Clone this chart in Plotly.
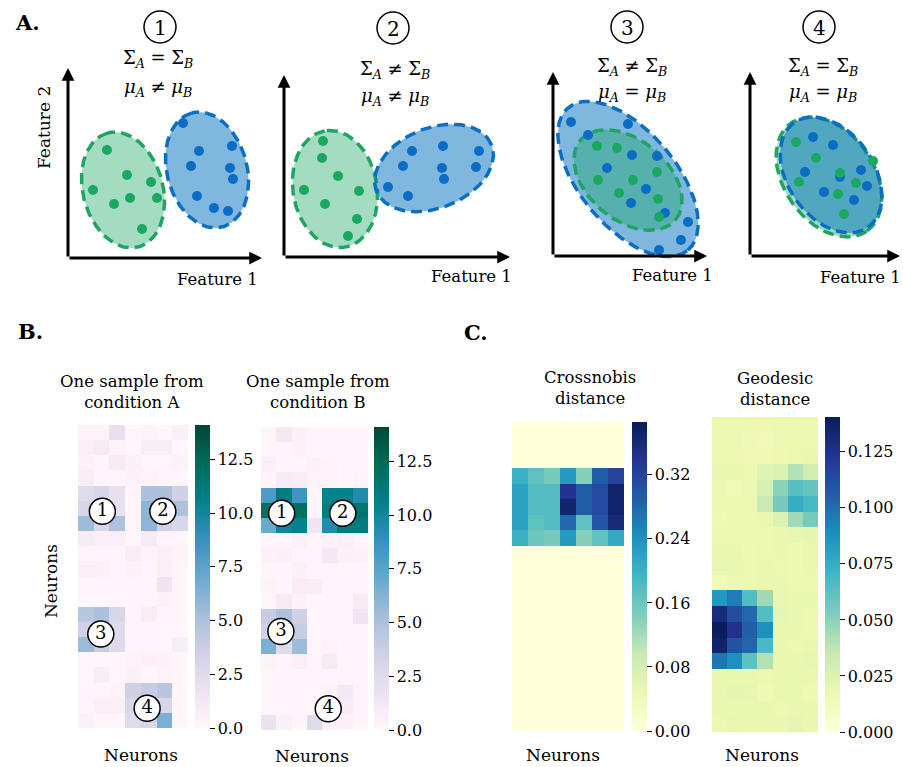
import numpy as np
import plotly.graph_objects as go
import plotly.colors as pc

W, H = 903, 767
FONT = "DejaVu Serif"


def X(p):
    return p / W


def Y(p):
    return 1 - p / H


# ---------------- Panel A data (schematic, units = px relative to plot origin) ----------------
A_origin = [(68, 258), (284, 257), (553, 256), (750, 256)]
A_size = [(194, 190), (226, 182), (154, 184), (150, 184)]

# ellipse: (cx, cy, semi-major, semi-minor, angle_deg)
ell_green = [(55, 68, 59, 40, 105), (51, 68, 59, 42, 100), (75, 76, 62, 40, -40), (79, 79, 66, 45, -55)]
ell_blue = [(139, 88, 59, 40, 105), (150, 89, 62, 40, 22), (75, 77, 93, 48, -50), (81, 81, 64, 43, -55)]

green_x = [
    [39, 59, 83, 25, 62, 89, 46, 74],
    [39, 38, 54, 20, 75, 41, 73, 64],
    [44, 64, 104, 45, 80, 66, 105, 106],
    [46, 66, 123, 90, 49, 106, 88, 94],
]
green_y = [
    [108, 83, 76, 68, 60, 60, 54, 29],
    [116, 99, 81, 67, 66, 53, 38, 21],
    [110, 108, 84, 76, 76, 63, 57, 39],
    [114, 98, 95, 83, 74, 73, 62, 42],
]
blue_x = [
    [115, 131, 164, 123, 162, 165, 129, 146, 160],
    [128, 159, 195, 119, 158, 192, 160, 104, 124],
    [18, 75, 35, 79, 104, 54, 93, 78, 112, 135, 128, 106],
    [63, 83, 55, 111, 90, 117, 74, 104],
]
blue_y = [
    [135, 107, 112, 92, 90, 79, 62, 50, 47],
    [106, 111, 106, 91, 89, 90, 78, 70, 61],
    [134, 132, 121, 101, 100, 88, 67, 53, 43, 34, 16, 6],
    [119, 111, 84, 86, 79, 70, 64, 56],
]

cond_top = [
    "Σ<sub><i>A</i></sub> = Σ<sub><i>B</i></sub>",
    "Σ<sub><i>A</i></sub> ≠ Σ<sub><i>B</i></sub>",
    "Σ<sub><i>A</i></sub> ≠ Σ<sub><i>B</i></sub>",
    "Σ<sub><i>A</i></sub> = Σ<sub><i>B</i></sub>",
]
cond_bot = [
    "<i>μ</i><sub><i>A</i></sub> ≠ <i>μ</i><sub><i>B</i></sub>",
    "<i>μ</i><sub><i>A</i></sub> ≠ <i>μ</i><sub><i>B</i></sub>",
    "<i>μ</i><sub><i>A</i></sub> = <i>μ</i><sub><i>B</i></sub>",
    "<i>μ</i><sub><i>A</i></sub> = <i>μ</i><sub><i>B</i></sub>",
]
case_labels = ["1", "2", "3", "4"]

# ---------------- Panel B data ----------------
cond_A = [
    [0.3, 0.3, 2.0, 0.2, 0.3, 0.2, 0.6],
    [0.6, 1.0, 0.3, 0.2, 0.7, 0.7, 0.2],
    [0.4, 0.2, 1.0, 0.5, 0.2, 0.2, 0.4],
    [0.8, 0.2, 0.2, 0.4, 0.3, 0.2, 0.2],
    [2.5, 3.0, 2.0, 0.2, 5.0, 5.0, 3.5],
    [3.0, 2.5, 2.0, 0.2, 6.0, 4.0, 5.0],
    [5.5, 3.0, 5.0, 0.2, 6.0, 3.5, 3.0],
    [1.0, 0.6, 0.6, 0.2, 1.0, 0.2, 0.2],
    [0.2, 0.2, 0.2, 0.8, 0.3, 0.6, 0.3],
    [0.6, 0.5, 0.2, 0.4, 0.2, 0.6, 0.2],
    [0.2, 0.2, 0.2, 0.2, 0.2, 1.5, 0.2],
    [0.2, 0.2, 0.2, 0.2, 0.2, 0.4, 0.2],
    [4.5, 5.0, 3.0, 0.2, 0.8, 0.2, 0.2],
    [3.5, 3.5, 2.5, 0.2, 0.2, 0.2, 0.2],
    [5.5, 4.0, 2.5, 0.2, 0.2, 0.2, 0.7],
    [0.2, 0.2, 0.2, 0.3, 0.5, 0.4, 0.2],
    [0.2, 0.7, 0.2, 0.5, 0.2, 0.3, 0.2],
    [0.2, 0.2, 0.3, 3.5, 4.0, 4.5, 0.2],
    [0.2, 0.6, 0.6, 3.0, 3.0, 3.0, 0.2],
    [0.4, 0.2, 0.2, 2.5, 3.0, 6.5, 0.2],
]
cond_B = [
    [0.2, 1.2, 0.5, 0.2, 0.2, 0.2, 0.2],
    [0.2, 0.2, 0.4, 0.2, 0.2, 0.2, 0.2],
    [0.6, 0.2, 0.2, 0.4, 0.3, 0.2, 0.2],
    [0.3, 1.0, 0.8, 0.3, 0.3, 0.2, 0.3],
    [8.0, 11.0, 8.5, 0.2, 10.5, 10.5, 9.5],
    [12.0, 11.5, 12.0, 0.2, 11.0, 11.5, 11.5],
    [7.0, 10.0, 10.5, 1.5, 9.5, 11.0, 11.0],
    [0.2, 0.2, 0.5, 0.2, 0.4, 0.6, 0.2],
    [0.4, 0.5, 0.2, 0.2, 1.2, 0.5, 0.4],
    [0.2, 0.2, 0.5, 0.2, 0.2, 0.2, 0.2],
    [0.3, 0.2, 0.8, 0.8, 0.2, 0.2, 0.2],
    [0.2, 1.0, 0.4, 0.2, 0.2, 0.2, 1.0],
    [4.0, 5.0, 3.5, 0.2, 0.2, 0.2, 1.5],
    [3.5, 3.0, 4.0, 0.2, 0.2, 0.2, 0.2],
    [6.5, 2.5, 5.5, 0.2, 0.3, 0.2, 0.2],
    [0.3, 0.2, 0.6, 0.2, 1.0, 0.2, 0.2],
    [0.2, 0.2, 0.2, 0.2, 0.2, 0.2, 0.2],
    [0.2, 0.2, 0.2, 0.2, 0.3, 1.2, 0.2],
    [0.2, 0.2, 0.2, 0.2, 0.6, 0.9, 0.2],
    [1.8, 0.5, 0.2, 2.5, 0.6, 0.5, 0.2],
]
B_ticks = [0.0, 2.5, 5.0, 7.5, 10.0, 12.5]
circ_A_col = [1.05, 4.9, 0.95, 3.9]
circ_A_row = [5.2, 5.2, 13.3, 18.2]
circ_B_col = [0.85, 4.85, 0.8, 3.9]
circ_B_row = [5.2, 5.2, 13.0, 18.1]

# ---------------- Panel C data ----------------
cross_block = [
    [0.20, 0.17, 0.15, 0.23, 0.14, 0.29, 0.32],
    [0.22, 0.18, 0.18, 0.34, 0.29, 0.31, 0.37],
    [0.22, 0.18, 0.18, 0.37, 0.29, 0.31, 0.37],
    [0.22, 0.17, 0.18, 0.28, 0.17, 0.30, 0.36],
    [0.20, 0.16, 0.15, 0.23, 0.14, 0.17, 0.21],
]
crossnobis = [[0.0] * 7 for _ in range(3)] + cross_block + [[0.0] * 7 for _ in range(12)]
C1_ticks = [0.00, 0.08, 0.16, 0.24, 0.32]

geodesic = [
    [0.018, 0.018, 0.017, 0.017, 0.018, 0.018, 0.018],
    [0.018, 0.018, 0.016, 0.015, 0.018, 0.018, 0.018],
    [0.018, 0.017, 0.016, 0.016, 0.017, 0.018, 0.019],
    [0.020, 0.019, 0.018, 0.024, 0.026, 0.040, 0.030],
    [0.018, 0.014, 0.018, 0.028, 0.050, 0.064, 0.060],
    [0.018, 0.018, 0.018, 0.034, 0.055, 0.075, 0.068],
    [0.016, 0.018, 0.018, 0.019, 0.025, 0.045, 0.055],
    [0.017, 0.018, 0.018, 0.018, 0.019, 0.020, 0.021],
    [0.019, 0.019, 0.017, 0.018, 0.019, 0.017, 0.019],
    [0.020, 0.019, 0.018, 0.019, 0.018, 0.017, 0.019],
    [0.015, 0.018, 0.018, 0.019, 0.019, 0.018, 0.018],
    [0.085, 0.095, 0.065, 0.045, 0.020, 0.019, 0.019],
    [0.130, 0.112, 0.102, 0.065, 0.021, 0.019, 0.018],
    [0.140, 0.125, 0.105, 0.088, 0.019, 0.019, 0.018],
    [0.135, 0.110, 0.103, 0.068, 0.019, 0.018, 0.019],
    [0.097, 0.088, 0.062, 0.040, 0.019, 0.019, 0.020],
    [0.019, 0.019, 0.019, 0.018, 0.019, 0.019, 0.019],
    [0.019, 0.021, 0.020, 0.016, 0.019, 0.019, 0.017],
    [0.019, 0.019, 0.019, 0.019, 0.018, 0.019, 0.019],
    [0.018, 0.020, 0.019, 0.019, 0.019, 0.021, 0.019],
]
C2_ticks = [0.000, 0.025, 0.050, 0.075, 0.100, 0.125]

GREEN_FILL = "rgba(26,168,100,0.40)"
BLUE_FILL = "rgba(0,112,192,0.50)"
GREEN_LINE = "#1fa463"
BLUE_LINE = "#0a6fc2"
GREEN_DOT = "#1aa860"
BLUE_DOT = "#0a6cc4"

fig = go.Figure()
layout = {}
annotations = []
shapes = []


def names(i):
    s = "" if i == 1 else str(i)
    return "xaxis" + s, "yaxis" + s, "x" + s, "y" + s


def ellipse_pts(cx, cy, a, b, ang, n=200):
    t = np.linspace(0, 2 * np.pi, n)
    th = np.deg2rad(ang)
    x = cx + a * np.cos(t) * np.cos(th) - b * np.sin(t) * np.sin(th)
    y = cy + a * np.cos(t) * np.sin(th) + b * np.sin(t) * np.cos(th)
    return x, y


def label(px, py, text, size, angle=0):
    annotations.append(dict(x=X(px), y=Y(py), xref="paper", yref="paper",
                            xanchor="center", yanchor="middle", text=text,
                            textangle=angle, showarrow=False,
                            font=dict(family=FONT, size=size, color="black")))


pad = 14
for k in range(4):
    idx = k + 1
    xa, ya, xr, yr = names(idx)
    ox, oy = A_origin[k]
    w, h = A_size[k]
    xl = max(ox - pad, 0)
    xh = min(ox + w + pad, W)
    yb = min(oy + pad, H)
    yt = max(oy - h - pad, 0)
    layout[xa] = dict(domain=[X(xl), X(xh)], range=[xl - ox, xh - ox],
                      visible=False, fixedrange=True, anchor=yr)
    layout[ya] = dict(domain=[Y(yb), Y(yt)], range=[oy - yb, oy - yt],
                      visible=False, fixedrange=True, anchor=xr)

    def add_ell(p, fillc, linec):
        ex, ey = ellipse_pts(*p)
        fig.add_trace(go.Scatter(x=ex, y=ey, mode="lines", fill="toself", fillcolor=fillc,
                                 line=dict(color=linec, width=3.5, dash="11px,6px"),
                                 hoverinfo="skip", xaxis=xr, yaxis=yr))

    if k == 2:
        add_ell(ell_blue[k], BLUE_FILL, BLUE_LINE)
        add_ell(ell_green[k], GREEN_FILL, GREEN_LINE)
    else:
        add_ell(ell_green[k], GREEN_FILL, GREEN_LINE)
        add_ell(ell_blue[k], BLUE_FILL, BLUE_LINE)
    fig.add_trace(go.Scatter(x=blue_x[k], y=blue_y[k], mode="markers",
                             marker=dict(size=10, color=BLUE_DOT), xaxis=xr, yaxis=yr, cliponaxis=False))
    fig.add_trace(go.Scatter(x=green_x[k], y=green_y[k], mode="markers",
                             marker=dict(size=10, color=GREEN_DOT), xaxis=xr, yaxis=yr, cliponaxis=False))
    # axis arrows
    for (tx, ty) in [(w, 0), (0, h)]:
        annotations.append(dict(x=tx, y=ty, ax=0, ay=0, xref=xr, yref=yr, axref=xr, ayref=yr,
                                text="", showarrow=True, arrowhead=2, arrowsize=0.85,
                                arrowwidth=3, arrowcolor="black"))

# Panel A texts
circ_cx = [160, 393, 627, 819]
circ_cy = [27, 28, 27, 27]
text_cx = [158, 395, 632, 823]
top_y = [59, 70, 67, 67]
bot_y = [88, 97, 93, 93]
feat1_x = [217, 472, 672, 860]
feat1_y = [279, 276, 275, 277]
for k in range(4):
    r = 16
    shapes.append(dict(type="circle", xref="paper", yref="paper",
                       x0=X(circ_cx[k] - r), x1=X(circ_cx[k] + r),
                       y0=Y(circ_cy[k] + r), y1=Y(circ_cy[k] - r),
                       line=dict(color="black", width=1.5), fillcolor="white"))
    label(circ_cx[k], circ_cy[k] + 1, case_labels[k], 20)
    label(text_cx[k], top_y[k], cond_top[k], 18)
    label(text_cx[k], bot_y[k], cond_bot[k], 18)
    label(feat1_x[k], feat1_y[k], "Feature 1", 16.5)

label(44, 128, "Feature 2", 17, angle=-90)

# panel letters
for txt, px, py in [("A.", 27, 22), ("B.", 30, 331), ("C.", 476, 332)]:
    label(px, py, "<b>" + txt + "</b>", 21)

# ---------------- heatmaps ----------------
PuBuGn = pc.sequential.PuBuGn
YlGnBu = pc.sequential.YlGnBu

heat_specs = [
    (cond_A, PuBuGn, 14.1, B_ticks, ".1f", (78, 188, 425, 728), (195, 425, 728),
     "One sample from<br>condition A", (132, 392), (141, 755)),
    (cond_B, PuBuGn, 14.1, B_ticks, ".1f", (261, 368, 427, 730), (374, 427, 730),
     "One sample from<br>condition B", (318, 392), (312, 756)),
    (crossnobis, YlGnBu, 0.386, C1_ticks, ".2f", (512, 624, 422, 731), (632, 422, 731),
     "Crossnobis<br>distance", (590, 388), (563, 755)),
    (geodesic, YlGnBu, 0.1405, C2_ticks, ".3f", (712, 818, 417, 732), (825, 417, 732),
     "Geodesic<br>distance", (775, 389), (762, 755)),
]

for j, (z, cmap, zmax, ticks, fmt, box, cb, title, tpos, npos) in enumerate(heat_specs):
    idx = 5 + j
    xa, ya, xr, yr = names(idx)
    x0, x1, y0, y1 = box
    layout[xa] = dict(domain=[X(x0), X(x1)], range=[-0.5, 6.5], visible=False,
                      fixedrange=True, anchor=yr)
    layout[ya] = dict(domain=[Y(y1), Y(y0)], range=[19.5, -0.5], visible=False,
                      fixedrange=True, anchor=xr)
    cbx, cby0, cby1 = cb
    fig.add_trace(go.Heatmap(
        z=z, colorscale=cmap, zmin=0, zmax=zmax, xaxis=xr, yaxis=yr,
        colorbar=dict(thickness=15, lenmode="pixels", len=cby1 - cby0, x=X(cbx),
                      xanchor="left", y=Y(cby0), yanchor="top", xpad=0, ypad=0, outlinewidth=0,
                      ticks="outside", ticklen=5, tickwidth=1, tickcolor="black",
                      tickvals=ticks, tickformat=fmt,
                      tickfont=dict(family=FONT, size=16, color="black")),
    ))
    label(tpos[0], tpos[1], title, 16.5)
    label(npos[0], npos[1], "Neurons", 17)

# circled labels on panel B heatmaps
for cols, rows, idx in [(circ_A_col, circ_A_row, 5), (circ_B_col, circ_B_row, 6)]:
    _, _, xr, yr = names(idx)
    fig.add_trace(go.Scatter(x=cols, y=rows, mode="markers+text", text=case_labels,
                             textposition="middle center",
                             textfont=dict(family=FONT, size=18, color="black"),
                             marker=dict(size=26, color="white", line=dict(color="black", width=1.5)),
                             xaxis=xr, yaxis=yr, hoverinfo="skip", cliponaxis=False))

label(51, 581, "Neurons", 17, angle=-90)

fig.update_layout(
    width=W, height=H, margin=dict(l=0, r=0, t=0, b=0, pad=0, autoexpand=False),
    paper_bgcolor="white", plot_bgcolor="white", showlegend=False,
    annotations=annotations, shapes=shapes, **layout,
)

fig.write_html("out.html", config={"displayModeBar": False},
               post_script="document.body.style.margin='0px';document.body.style.overflow='hidden';")
